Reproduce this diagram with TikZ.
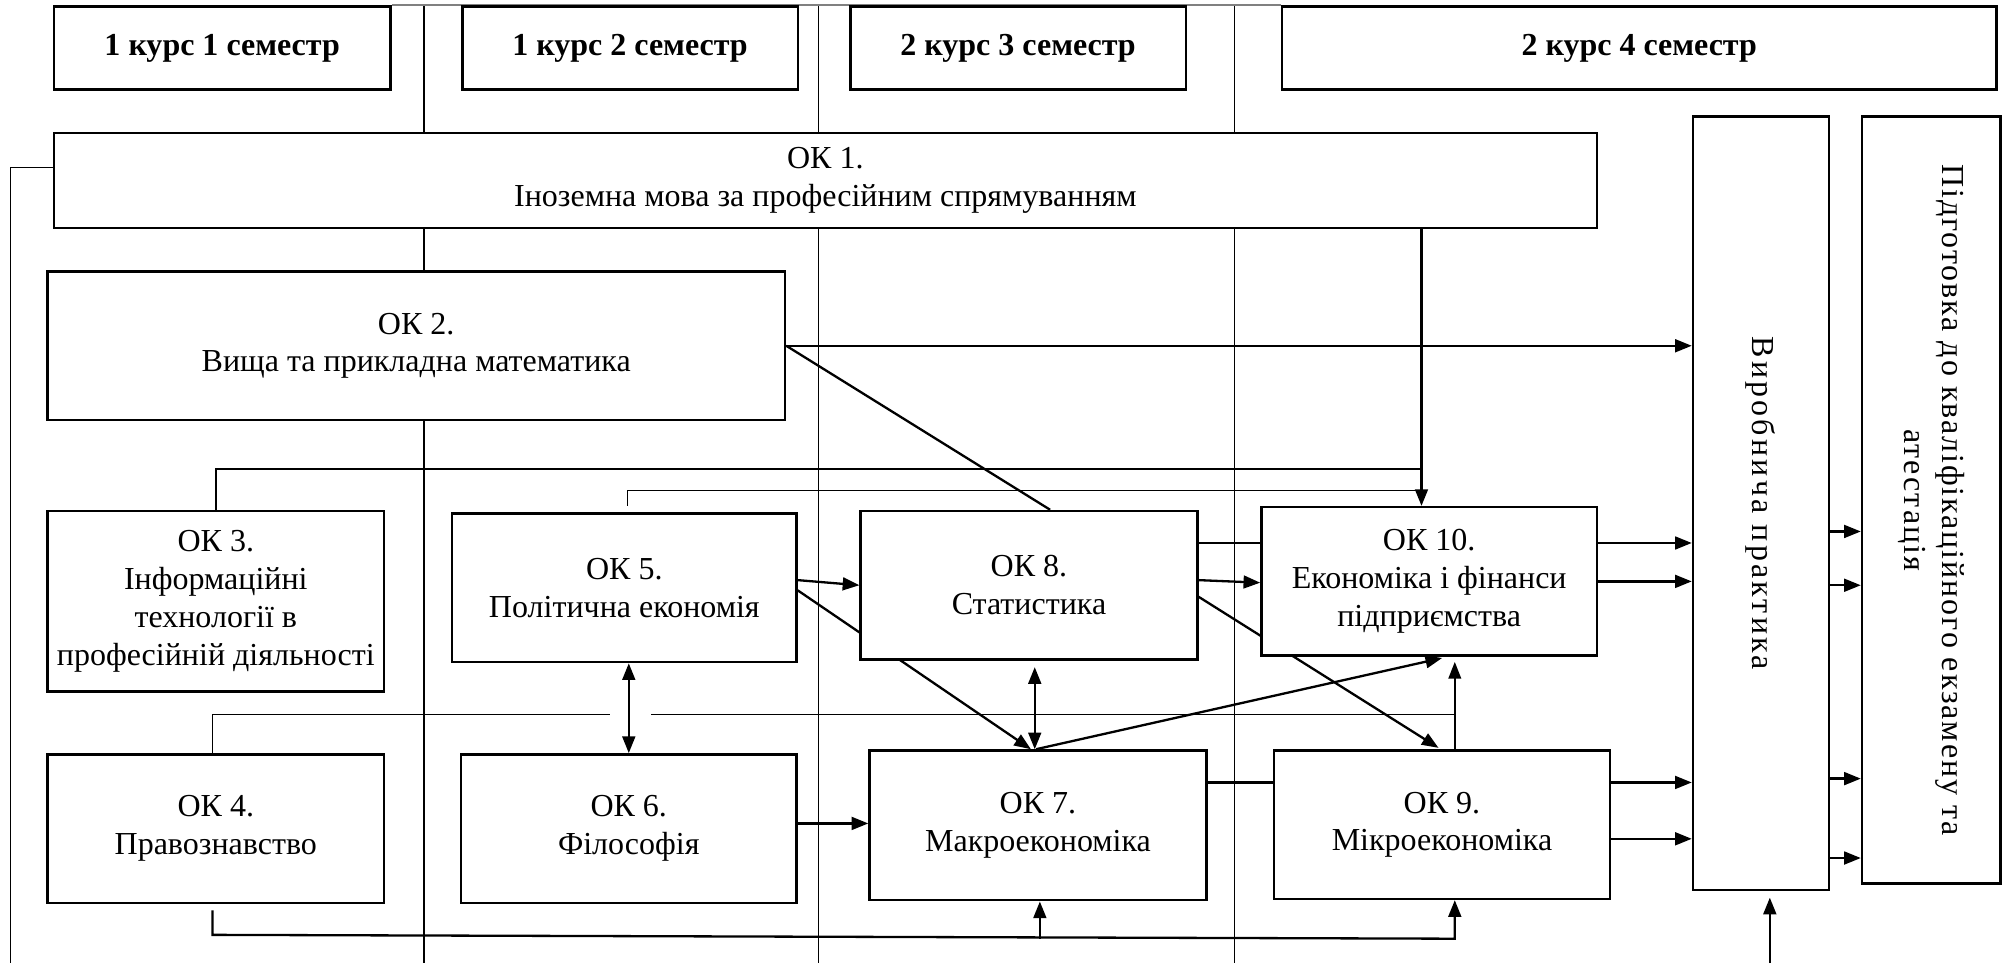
\documentclass[tikz,border=0pt]{standalone}
\usepackage{fontspec}
\setmainfont{Liberation Serif}
\newfontfamily\spacedfont[LetterSpace=10]{Liberation Serif}
\newfontfamily\spacedfontb[LetterSpace=6]{Liberation Serif}
\usetikzlibrary{arrows.meta,calc}
\pgfdeclarelayer{background}
\pgfsetlayers{background,main}
\begin{document}
\begin{tikzpicture}[x=1pt,y=-1pt,
  box/.style={draw, line width=1.9pt, fill=white, inner sep=2pt, align=center,
    font=\fontsize{25}{29.5}\selectfont},
  hdr/.style={box, font=\bfseries\fontsize{25}{29.5}\selectfont},
  arr/.style={-{Triangle[length=13pt,width=10pt]}},
  darr/.style={{Triangle[length=13pt,width=10pt]}-{Triangle[length=13pt,width=10pt]}},
  ln/.style={line width=1.8pt},
  thinln/.style={line width=1.1pt},
]
\useasboundingbox (0,0) rectangle (1568,752);

% headers
\node[hdr, minimum width=263pt, minimum height=65pt] (h1) at (173.5,37.5) {1 курс 1 семестр};
\node[hdr, minimum width=262pt, minimum height=65pt] (h2) at (492,37.5) {1 курс 2 семестр};
\node[hdr, minimum width=262pt, minimum height=65pt] (h3) at (795,37.5) {2 курс 3 семестр};
\node[hdr, minimum width=558pt, minimum height=65pt] (h4) at (1280,37.5) {2 курс 4 семестр};

% course boxes
\node[box, minimum width=1205pt, minimum height=74pt] (ok1) at (644.5,141) {ОК 1.\\Іноземна мова за професійним спрямуванням};
\node[box, minimum width=576pt, minimum height=116pt] (ok2) at (325,270) {ОК 2.\\Вища та прикладна математика};
\node[box, minimum width=263pt, minimum height=141pt] (ok3) at (168.5,469.5) {ОК 3.\\Інформаційні\\технології в\\професійній діяльності};
\node[box, minimum width=263pt, minimum height=116pt] (ok4) at (168.5,647) {ОК 4.\\Правознавство};
\node[box, minimum width=269pt, minimum height=116pt] (ok5) at (487.5,459) {ОК 5.\\Політична економія};
\node[box, minimum width=262pt, minimum height=116pt] (ok6) at (491,647) {ОК 6.\\Філософія};
\node[box, minimum width=263pt, minimum height=116pt] (ok8) at (803.5,457) {ОК 8.\\Статистика};
\node[box, minimum width=263pt, minimum height=117pt] (ok7) at (810.5,644.5) {ОК 7.\\Макроекономіка};
\node[box, minimum width=262pt, minimum height=116pt] (ok10) at (1116,454) {ОК 10.\\Економіка і фінанси\\підприємства};
\node[box, minimum width=262pt, minimum height=116pt] (ok9) at (1126,644) {ОК 9.\\Мікроекономіка};
\node[box, minimum width=106pt, minimum height=604pt] (vyr) at (1375,393) {\rotatebox{-90}{\spacedfont Виробнича практика}};
\node[box, minimum width=108pt, minimum height=599pt] (pid) at (1508,390.5) {\rotatebox{-90}{\spacedfontb\begin{tabular}{@{}c@{}}Підготовка до кваліфікаційного екзамену та\\атестація\end{tabular}}};

% junction coordinates
\coordinate (j1) at (1110,366);
\coordinate (j2) at (1110,383);
\coordinate (j3) at (1136,558);
\coordinate (j4) at (1136,733);
\coordinate (j5) at (812,733);
\coordinate (lb) at (8,752);
\coordinate (b1) at (1382,752);
\coordinate (d1t) at (331,4);
\coordinate (d1b) at (331,752);
\coordinate (d2t) at (639,4);
\coordinate (d2b) at (639,752);
\coordinate (d3t) at (964,4);
\coordinate (d3b) at (964,752);

\begin{pgfonlayer}{background}
% semester dividers
\draw[thinln] (d1t) -- (d1b);
\draw[thinln] (d2t) -- (d2b);
\draw[thinln] (d3t) -- (d3b);
\draw[thinln, gray] (h1.north east) -- (h4.north west);

% OK1 left line
\draw[thinln] (ok1.west |- 0,131) -- (lb |- 0,131) -- (lb);
% OK1 -> OK10
\draw[ln, arr] (ok1.south -| j1) -- (ok10.north -| j1);
% OK3 -> OK10 (joins)
\draw[ln] (ok3.north) -- (ok3.north |- j1) -- (j1);
% OK5 -> OK10 (joins)
\draw[thinln, shorten <=5pt] (ok5.north -| 490,0) -- (490,383) -- (j2);
% OK2 -> practice, OK2 -> OK8
\draw[ln, arr] (ok2.east) -- (vyr.west |- ok2.east);
\draw[ln] (ok2.east) -- (ok8.north -| 820,0);
% OK5 -> OK8, OK5 -> OK7
\draw[ln, arr] (ok5.east |- 0,453) -- (ok8.west |- 0,457);
\draw[ln, arr] (ok5.east |- 0,461) -- (ok7.north -| 805,0);
% OK4 top link -> OK10
\draw[thinln] (ok4.north -| 166,0) -- (166,558) -- (j3);
\fill[white] (476,554) rectangle (508,562);
% OK5 <-> OK6
\draw[ln, darr] (ok5.south -| 491,0) -- (ok6.north -| 491,0);
% OK6 -> OK7
\draw[ln, arr] (ok6.east |- 0,643) -- (ok7.west |- 0,643);
% OK8 <-> OK7
\draw[ln, darr, shorten <=5pt] (ok8.south -| 808,0) -- (ok7.north -| 808,0);
% OK8 -> OK10
\draw[ln] (ok8.east |- 0,424) -- (ok10.west |- 0,424);
\draw[ln, arr] (ok8.east |- 0,453) -- (ok10.west |- 0,455);
% OK8 -> OK9
\draw[ln, arr, shorten >=2pt] (ok8.east |- 0,466) -- (ok9.north -| 1125,0);
% OK7 -> OK10
\draw[ln, arr, shorten >=4pt] (ok7.north -| 809,0) -- (ok10.south -| 1130,0);
% OK9 -> OK10
\draw[thinln, arr, shorten >=4pt] (ok9.north -| j3) -- (ok10.south -| j3);
% OK7 -- OK9
\draw[ln] (ok7.east |- 0,611) -- (ok9.west |- 0,611);
% OK4 bottom link -> OK9, OK7
\draw[ln, arr, shorten <=5pt] (ok4.south -| 166,0) -- (166,730) -- (j4) -- (ok9.south -| j4);
\draw[ln, arr] (j5) -- (ok7.south -| j5);
% to practice
\draw[ln, arr] (ok10.east |- 0,424) -- (vyr.west |- 0,424);
\draw[ln, arr] (ok10.east |- 0,454) -- (vyr.west |- 0,454);
\draw[ln, arr] (ok9.east |- 0,611) -- (vyr.west |- 0,611);
\draw[ln, arr] (ok9.east |- 0,655) -- (vyr.west |- 0,655);
\draw[ln, arr, shorten >=5pt] (b1) -- (vyr.south -| b1);
% practice -> exam
\draw[ln, arr] (vyr.east |- 0,415) -- (pid.west |- 0,415);
\draw[ln, arr] (vyr.east |- 0,457) -- (pid.west |- 0,457);
\draw[ln, arr] (vyr.east |- 0,608) -- (pid.west |- 0,608);
\draw[ln, arr] (vyr.east |- 0,670) -- (pid.west |- 0,670);
\end{pgfonlayer}
\end{tikzpicture}
\end{document}
